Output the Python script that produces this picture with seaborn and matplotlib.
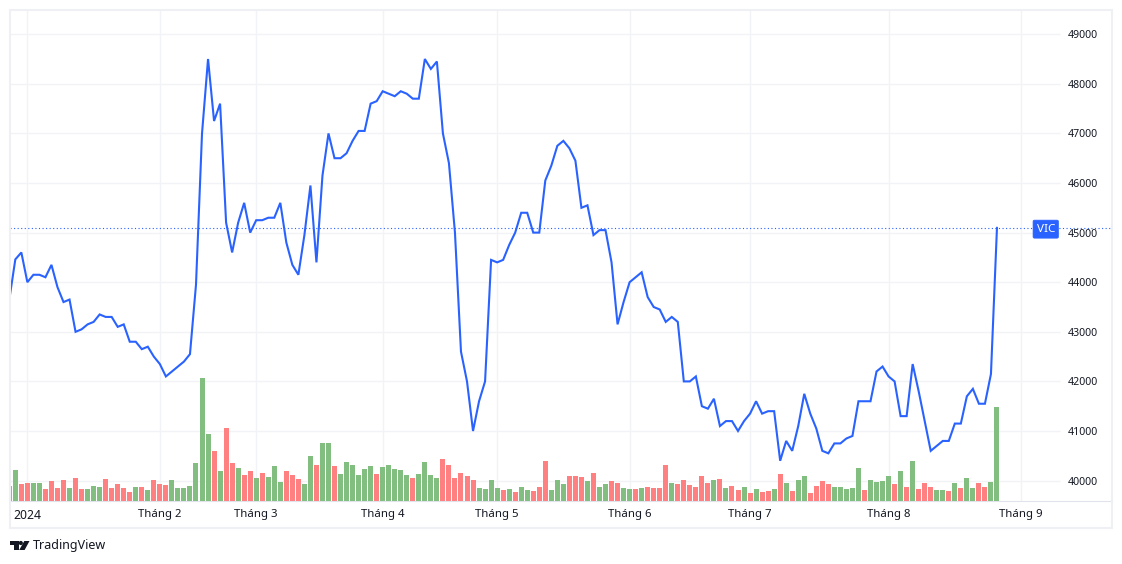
import matplotlib
matplotlib.use("Agg")
import matplotlib.pyplot as plt
from matplotlib.patches import Circle, Polygon, Rectangle
import numpy as np
import pandas as pd
import seaborn as sns

# daily closes
close = [
    43650, 44460, 44600, 44000, 44150, 44150, 44100, 44350, 43900, 43600,
    43650, 43000, 43050, 43150, 43200, 43350, 43300, 43300, 43100, 43150,
    42800, 42800, 42650, 42700, 42500, 42350, 42100, 42200, 42300, 42400,
    42550, 43950, 47000, 48500, 47250, 47600, 45200, 44600, 45200, 45600,
    45000, 45250, 45250, 45300, 45300, 45600, 44800, 44350, 44150, 44950,
    45950, 44400, 46150, 47000, 46500, 46500, 46600, 46850, 47050, 47050,
    47600, 47650, 47850, 47800, 47750, 47850, 47800, 47700, 47700, 48500,
    48300, 48450, 47000, 46400, 45000, 42600, 42000, 41000, 41600, 42000,
    44450, 44400, 44450, 44750, 45000, 45400, 45400, 45000, 45000, 46050,
    46350, 46750, 46850, 46700, 46450, 45500, 45550, 44950, 45050, 45050,
    44400, 43150, 43600, 44000, 44100, 44200, 43700, 43500, 43450, 43200,
    43300, 43200, 42000, 42000, 42100, 41500, 41450, 41650, 41100, 41200,
    41200, 41000, 41200, 41350, 41600, 41350, 41400, 41400, 40400, 40800,
    40600, 41100, 41750, 41350, 41050, 40600, 40550, 40750, 40750, 40850,
    40900, 41600, 41600, 41600, 42200, 42300, 42100, 42000, 41300, 41300,
    42350, 41800, 41200, 40600, 40700, 40800, 40800, 41150, 41150, 41700,
    41850, 41550, 41550, 42150, 45100,
]

# relative volume, no scale in the picture
volume = [
    45, 93, 51, 54, 54, 54, 36, 60, 39, 63,
    39, 69, 36, 36, 45, 42, 66, 39, 51, 39,
    27, 42, 42, 33, 63, 51, 48, 63, 39, 39,
    45, 114, 369, 201, 150, 90, 219, 114, 99, 78,
    90, 69, 84, 72, 105, 57, 90, 78, 66, 51,
    135, 108, 174, 174, 105, 81, 117, 108, 78, 96,
    105, 81, 102, 108, 96, 93, 78, 69, 81, 117,
    78, 69, 126, 108, 69, 84, 75, 63, 39, 36,
    63, 39, 33, 36, 27, 42, 33, 30, 42, 120,
    33, 63, 51, 75, 75, 72, 60, 84, 42, 51,
    60, 54, 39, 36, 36, 39, 42, 39, 39, 108,
    54, 51, 63, 48, 42, 75, 54, 63, 66, 39,
    45, 33, 42, 24, 36, 27, 30, 36, 81, 54,
    30, 63, 75, 24, 45, 60, 51, 42, 42, 36,
    39, 99, 33, 63, 57, 60, 75, 51, 90, 42,
    120, 36, 54, 42, 33, 33, 30, 54, 39, 69,
    39, 54, 42, 57, 282,
]

# G = up day, R = down day
direction = list(
    "RGRRGGRRRR" "GRRGGGRRRR" "RGRGRRRGGG" "GGGGRGRRGR"
    "RGRGGGRRRG" "GRGGRGGGGG" "GRGGGGGRGG" "GGRRRRRRGG"
    "GGRGRGGRRR" "GGGRRRGRGG" "RRGGRGRRRR" "GRRRRRRGRG"
    "RRGRGRRGRG" "RGGRRRRGGG" "GGRGGGGRGR" "GRRRGGRGRG"
    "GRRGG"
)

month_sessions = [3, 25, 41, 62, 81, 103, 123, 146, 168]
month_labels = ["2024", "Tháng 2", "Tháng 3", "Tháng 4", "Tháng 5", "Tháng 6", "Tháng 7", "Tháng 8", "Tháng 9"]
price_ticks = [40000, 41000, 42000, 43000, 44000, 45000, 46000, 47000, 48000, 49000]

W, H = 1122, 564
BLUE = "#2962FF"
TEXT = "#131722"
GRID = "#F2F3F6"
FRAME = "#EFF0F4"


def px(x, y):
    # pixel position from the top left to figure coords
    return x / W, 1 - y / H


sns.set_theme(style="white")
plt.rcParams["font.family"] = ["Noto Sans", "DejaVu Sans"]

sessions = np.arange(len(close))
df = pd.DataFrame({"session": sessions, "close": close, "volume": volume, "dir": direction})

fig = plt.figure(figsize=(W / 100, H / 100), dpi=100, facecolor="white")
ax = fig.add_axes([10 / W, 1 - 501 / H, 1102 / W, 491 / H])

sns.lineplot(data=df, x="session", y="close", color=BLUE, linewidth=1.5, ax=ax, zorder=3)
ax.lines[0].set_solid_joinstyle("miter")
ax.axhline(close[-1], color=BLUE, linewidth=0.8, linestyle=(0, (1, 2.2)), zorder=2)

ax.set_xlim(0.116, 183.1)
ax.set_ylim(39589, 49488)
ax.set_xticks(month_sessions, month_labels)
ax.grid(True, axis="x", color=GRID, linewidth=1)
# horizontal grid stops short of the price scale
ax.hlines(price_ticks, 0.116, 174.5, color=GRID, linewidth=1, zorder=1)
ax.set_axisbelow(True)
ax.set_xlabel("")
ax.set_ylabel("")
for side in ["top", "left", "right"]:
    ax.spines[side].set_visible(False)
ax.spines["bottom"].set_color("#E0E3EB")
ax.spines["bottom"].set_linewidth(0.8)

# volume sits on its own scale along the bottom
axv = ax.twinx()
sns.barplot(
    data=df,
    x="session",
    y="volume",
    hue="dir",
    palette={"G": "#81BE80", "R": "#FF8080"},
    hue_order=["G", "R"],
    native_scale=True,
    dodge=False,
    width=0.83,
    saturation=1,
    linewidth=0,
    legend=False,
    ax=axv,
)
axv.set_xlim(0.116, 183.1)
axv.set_ylim(0, 1473)
axv.set_yticks([])
axv.set_xlabel("")
axv.set_ylabel("")
axv.patch.set_visible(False)
for spine in axv.spines.values():
    spine.set_visible(False)

# twinx moves the price axis to the left, so set it up after
ax.yaxis.tick_right()
ax.set_yticks(price_ticks, [str(p) for p in price_ticks])
ax.tick_params(axis="x", length=0, pad=6, labelsize=8.2, labelcolor=TEXT)
ax.tick_params(axis="y", length=0, pad=-10, labelsize=7.6, labelcolor=TEXT)
for label in ax.get_yticklabels():
    label.set_ha("right")
ax.get_xticklabels()[0].set_fontweight("semibold")
ax.get_xticklabels()[0].set_fontsize(8.8)

# price tag of the last close
ax.annotate(
    "VIC",
    xy=(172.1, close[-1]),
    ha="center",
    va="center_baseline",
    color="white",
    fontsize=8.4,
    bbox=dict(boxstyle="round,pad=0.3,rounding_size=0.12", fc=BLUE, ec=BLUE, lw=0.5),
    zorder=5,
)

# outer frame
x0, y0 = px(10, 528)
x1, y1 = px(1112, 10)
fig.add_artist(Rectangle((x0, y0), x1 - x0, y1 - y0, transform=fig.transFigure, fill=False, ec=FRAME, lw=1.5))

# tradingview mark
for pts in [
    [(10, 541), (18.6, 541), (18.6, 550), (14.2, 550), (14.2, 545), (10, 545)],
    [(24.3, 541), (29.5, 541), (24.6, 550), (19.2, 550)],
]:
    fig.add_artist(Polygon([px(*p) for p in pts], transform=fig.transFigure, fc=TEXT, ec="none"))
fig.add_artist(Circle((20.8, H - 543), 2.1, transform=None, fc=TEXT, ec="none"))
fig.text(*px(33, 546), "TradingView", ha="left", va="center", color=TEXT, fontsize=9.0, family="Noto Sans")

fig.savefig("out.png", dpi=100)
